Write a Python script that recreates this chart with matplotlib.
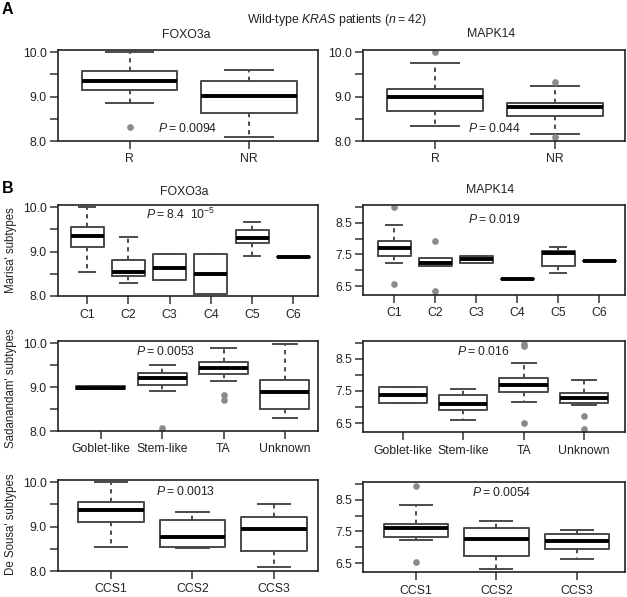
import matplotlib
matplotlib.use("Agg")
import matplotlib.pyplot as plt

plt.rcParams["font.family"] = ["Liberation Sans", "DejaVu Sans"]
plt.rcParams["mathtext.fontset"] = "custom"
plt.rcParams["mathtext.rm"] = "Liberation Sans"
plt.rcParams["mathtext.it"] = "Liberation Sans:italic"

W, H = 627, 597

# group names
RESP = ["R", "NR"]
MARISA = ["C1", "C2", "C3", "C4", "C5", "C6"]
SADA = ["Goblet-like", "Stem-like", "TA", "Unknown"]
SOUSA = ["CCS1", "CCS2", "CCS3"]

# box summaries: (whisker low, q1, median, q3, whisker high)
A_FOXO = [(8.85, 9.14, 9.36, 9.57, 10.0), (8.10, 8.63, 9.02, 9.36, 9.59)]
A_FOXO_OUT = [[8.32], []]
A_MAPK = [(8.34, 8.68, 8.98, 9.17, 9.76), (8.15, 8.56, 8.77, 8.85, 9.23)]
A_MAPK_OUT = [[10.0], [9.34, 8.10]]

M_FOXO = [(8.54, 9.11, 9.36, 9.56, 10.0), (8.29, 8.45, 8.54, 8.82, 9.32),
          (8.35, 8.35, 8.63, 8.94, 8.94), (8.05, 8.05, 8.49, 8.94, 8.94),
          (8.91, 9.20, 9.30, 9.49, 9.66), (8.88, 8.88, 8.88, 8.88, 8.88)]
M_FOXO_OUT = [[], [], [], [], [], []]
M_MAPK = [(7.24, 7.45, 7.71, 7.93, 8.42), (7.12, 7.14, 7.23, 7.38, 7.40),
          (7.24, 7.24, 7.35, 7.46, 7.46), (6.71, 6.71, 6.71, 6.71, 6.71),
          (6.92, 7.15, 7.56, 7.62, 7.73), (7.30, 7.30, 7.30, 7.30, 7.30)]
M_MAPK_OUT = [[8.99, 6.56], [7.92, 6.35], [], [], [], []]

S_FOXO = [(8.95, 8.95, 8.98, 9.02, 9.02), (8.90, 9.04, 9.21, 9.33, 9.50),
          (9.15, 9.29, 9.44, 9.57, 9.90), (8.29, 8.51, 8.88, 9.17, 9.99)]
S_FOXO_OUT = [[], [8.06], [8.82, 8.71], []]
S_MAPK = [(7.14, 7.14, 7.39, 7.62, 7.62), (6.60, 6.91, 7.08, 7.36, 7.57),
          (7.17, 7.46, 7.69, 7.91, 8.37), (7.07, 7.14, 7.29, 7.43, 7.85)]
S_MAPK_OUT = [[], [], [8.97, 8.90, 6.51], [6.71, 6.32]]

D_FOXO = [(8.53, 9.10, 9.37, 9.56, 10.0), (8.51, 8.53, 8.76, 9.14, 9.33),
          (8.08, 8.44, 8.95, 9.21, 9.50)]
D_FOXO_OUT = [[], [], []]
D_MAPK = [(7.22, 7.32, 7.60, 7.75, 8.35), (6.33, 6.73, 7.25, 7.60, 7.83),
          (6.62, 6.96, 7.19, 7.42, 7.56)]
D_MAPK_OUT = [[8.94, 6.52], [], []]

TS = "\u2009"
P_TEXT = [f"$P${TS}={TS}0.0094", f"$P${TS}={TS}0.044",
          f"$P${TS}={TS}8.4  10$^{{-5}}$", f"$P${TS}={TS}0.019",
          f"$P${TS}={TS}0.0053", f"$P${TS}={TS}0.016",
          f"$P${TS}={TS}0.0013", f"$P${TS}={TS}0.0054"]

fig = plt.figure(figsize=(W / 100, H / 100), dpi=100)

EDGE = "#4a4a4a"
TXT = "#222222"
FOXO_TICKS = [8.0, 8.5, 9.0, 9.5, 10.0]
FOXO_LABELS = ["8.0", "", "9.0", "", "10.0"]
MAPK_TICKS = [6.5, 7.0, 7.5, 8.0, 8.5, 9.0]
MAPK_LABELS = ["6.5", "", "7.5", "", "8.5", ""]


def panel(box, names, summ, out, xlim, ylim, yt, ytl, ptxt, pxy):
    l, t, r, b = box
    ax = fig.add_axes([l / W, 1 - b / H, (r - l) / W, (b - t) / H])
    stats = []
    for name, s, f in zip(names, summ, out):
        stats.append(dict(label=name, whislo=s[0], q1=s[1], med=s[2], q3=s[3],
                          whishi=s[4], fliers=f))
    ax.bxp(stats, positions=range(1, len(names) + 1), widths=0.8, capwidths=0.4,
           boxprops=dict(color=EDGE, lw=1.4),
           medianprops=dict(color="black", lw=2.8, solid_capstyle="butt"),
           whiskerprops=dict(color=EDGE, lw=1.4, ls=(0, (2.2, 2.2))),
           capprops=dict(color=EDGE, lw=1.4),
           flierprops=dict(marker="o", mfc="#8a8a8a", mec="#8a8a8a", ms=3.8))
    ax.set_xlim(*xlim)
    ax.set_ylim(*ylim)
    ax.set_yticks(yt)
    ax.set_yticklabels(ytl)
    ax.tick_params(length=5.5, width=1.1, color="#333333", labelsize=8.8,
                   labelcolor=TXT, pad=2.5)
    ax.tick_params(axis="x", pad=3.5)
    for sp in ax.spines.values():
        sp.set_linewidth(1.2)
        sp.set_color(TXT)
    ax.text(pxy[0], pxy[1], ptxt, transform=ax.transAxes, ha="center", va="center",
            fontsize=8.8, color=TXT)
    return ax


FY = (8.0, 10.05)
MY = (6.22, 9.06)
panel((58, 50, 318, 141), RESP, A_FOXO, A_FOXO_OUT, (0.4, 2.58), FY,
      FOXO_TICKS, FOXO_LABELS, P_TEXT[0], (0.5, 0.14))
panel((363, 50, 625, 141), RESP, A_MAPK, A_MAPK_OUT, (0.4, 2.58), FY,
      FOXO_TICKS, FOXO_LABELS, P_TEXT[1], (0.5, 0.14))
panel((58, 205, 318, 296), MARISA, M_FOXO, M_FOXO_OUT, (0.29, 6.6), FY,
      FOXO_TICKS, FOXO_LABELS, P_TEXT[2], (0.47, 0.9))
panel((363, 205, 625, 295), MARISA, M_MAPK, M_MAPK_OUT, (0.24, 6.63), MY,
      MAPK_TICKS, MAPK_LABELS, P_TEXT[3], (0.5, 0.84))
panel((58, 341, 318, 431), SADA, S_FOXO, S_FOXO_OUT, (0.3, 4.54), FY,
      FOXO_TICKS, FOXO_LABELS, P_TEXT[4], (0.415, 0.88))
panel((363, 341, 625, 432), SADA, S_MAPK, S_MAPK_OUT, (0.34, 4.68), MY,
      MAPK_TICKS, MAPK_LABELS, P_TEXT[5], (0.46, 0.89))
panel((58, 480, 318, 571), SOUSA, D_FOXO, D_FOXO_OUT, (0.35, 3.54), FY,
      FOXO_TICKS, FOXO_LABELS, P_TEXT[6], (0.49, 0.87))
panel((363, 482, 625, 572), SOUSA, D_MAPK, D_MAPK_OUT, (0.34, 3.6), MY,
      MAPK_TICKS, MAPK_LABELS, P_TEXT[7], (0.53, 0.88))


def ftext(x, y, s, **kw):
    fig.text(x / W, 1 - y / H, s, **kw)


ftext(2, 10, "A", fontsize=11.5, fontweight="bold", va="center")
ftext(2, 189, "B", fontsize=11.5, fontweight="bold", va="center")
ftext(337, 20, f"Wild-type $KRAS$ patients ($n${TS}={TS}42)", fontsize=8.8,
      ha="center", va="center", color=TXT)
for x, y, s in [(186, 35, "FOXO3a"), (491, 34, "MAPK14"),
                (184, 192, "FOXO3a"), (490, 190, "MAPK14")]:
    ftext(x, y, s, fontsize=8.8, ha="center", va="center", color=TXT)
for y, s in [(250, "Marisa' subtypes"), (388, "Sadanandam' subtypes"),
             (524, "De Sousa' subtypes")]:
    ftext(11, y, s, fontsize=8.3, rotation=90, ha="center", va="center", color=TXT)

fig.savefig("out.png", dpi=100)
